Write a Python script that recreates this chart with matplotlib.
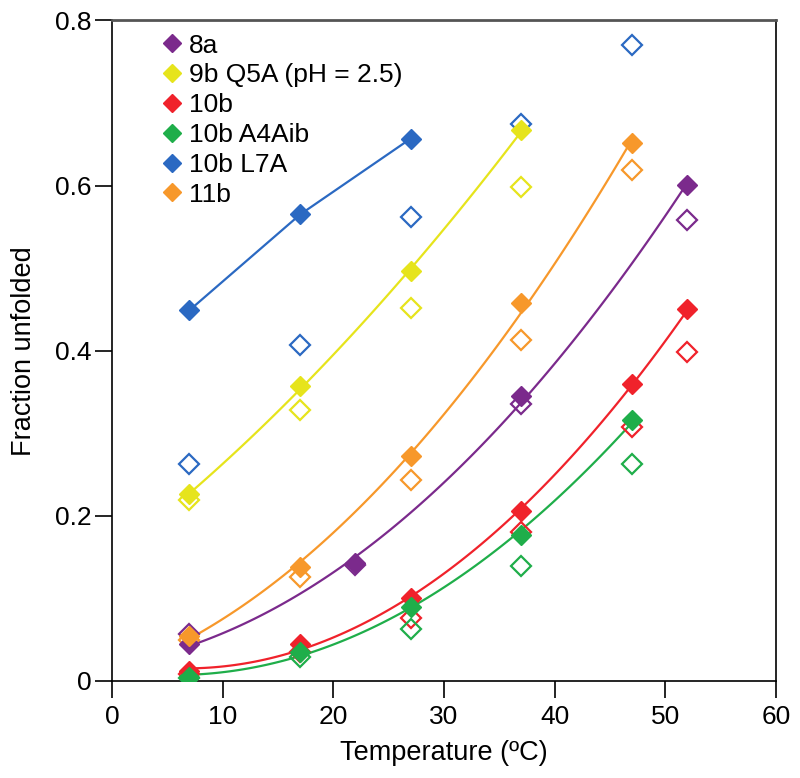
import matplotlib.pyplot as plt
import numpy as np

plt.rcParams['font.family'] = ['Liberation Sans', 'DejaVu Sans']

# compound labels and colours
names = ["8a", "9b Q5A (pH = 2.5)", "10b", "10b A4Aib", "10b L7A", "11b"]
colors = ["#7b2a8c", "#e6e41c", "#f0222b", "#1fae4a", "#2b69c2", "#f7982b"]

# filled points (fitted series)
t_8a = [7, 22, 37, 52]
f_8a = [0.045, 0.143, 0.345, 0.601]
t_9b = [7, 17, 27, 37]
f_9b = [0.226, 0.357, 0.496, 0.667]
t_10b = [7, 17, 27, 37, 47, 52]
f_10b = [0.012, 0.045, 0.100, 0.206, 0.360, 0.450]
t_aib = [7, 17, 27, 37, 47]
f_aib = [0.005, 0.035, 0.090, 0.177, 0.316]
t_l7a = [7, 17, 27]
f_l7a = [0.449, 0.565, 0.657]
t_11b = [7, 17, 27, 37, 47]
f_11b = [0.055, 0.138, 0.272, 0.458, 0.651]

# open points
to_8a = [7, 22, 37, 52]
o_8a = [0.057, 0.140, 0.336, 0.558]
to_9b = [7, 17, 27, 37]
o_9b = [0.219, 0.328, 0.452, 0.598]
to_10b = [7, 17, 27, 37, 47, 52]
o_10b = [0.008, 0.035, 0.076, 0.180, 0.308, 0.399]
to_aib = [7, 17, 27, 37, 47]
o_aib = [0.004, 0.029, 0.063, 0.139, 0.263]
to_l7a = [7, 17, 27, 37, 47]
o_l7a = [0.263, 0.407, 0.562, 0.675, 0.770]
to_11b = [7, 17, 27, 37, 47]
o_11b = [0.050, 0.126, 0.243, 0.413, 0.619]

filled = [(t_8a, f_8a), (t_9b, f_9b), (t_10b, f_10b),
          (t_aib, f_aib), (t_l7a, f_l7a), (t_11b, f_11b)]
opened = [(to_8a, o_8a), (to_9b, o_9b), (to_10b, o_10b),
          (to_aib, o_aib), (to_l7a, o_l7a), (to_11b, o_11b)]

fig = plt.figure(figsize=(8, 7.78), dpi=100)
ax = fig.add_axes([0.14, 0.1247, 0.83, 0.849])

for (t, f), (to, o), c, name in zip(filled, opened, colors, names):
    if len(t) > 3:
        # smooth fit through the filled points
        p = np.polyfit(t, f, 2)
        xs = np.linspace(min(t), max(t), 100)
        ax.plot(xs, np.polyval(p, xs), color=c, lw=1.6, zorder=2)
    else:
        ax.plot(t, f, color=c, lw=1.6, zorder=2)
    ax.plot(to, o, 'D', mfc='none', mec=c, mew=1.6, ms=10.5, zorder=3)
    ax.plot(t, f, 'D', color=c, ms=10.5, zorder=4)
    ax.plot([], [], 'D', color=c, ms=9.5, label=name)

ax.set_xlim(0, 60)
ax.set_ylim(0, 0.8)
ax.set_xticks(range(0, 61, 10))
ax.set_yticks([0, 0.2, 0.4, 0.6, 0.8])
ax.set_yticklabels(["0", "0.2", "0.4", "0.6", "0.8"])
ax.tick_params(labelsize=19, length=12.5, width=1.2, direction='out')
ax.tick_params(axis='x', pad=5)
ax.tick_params(axis='y', pad=2)
ax.set_xlabel("Temperature (ºC)", fontsize=19.5, labelpad=8)
ax.set_ylabel("Fraction unfolded", fontsize=19.5, labelpad=13)

for s in ax.spines.values():
    s.set_linewidth(1.2)
ax.spines['top'].set_color('#555555')
ax.spines['top'].set_linewidth(2)

ax.legend(loc='upper left', frameon=False, fontsize=19, handlelength=0.6,
          handletextpad=0.35, labelspacing=0.22, borderaxespad=0,
          borderpad=0, bbox_to_anchor=(0.078, 0.980))

plt.savefig('out.png')
